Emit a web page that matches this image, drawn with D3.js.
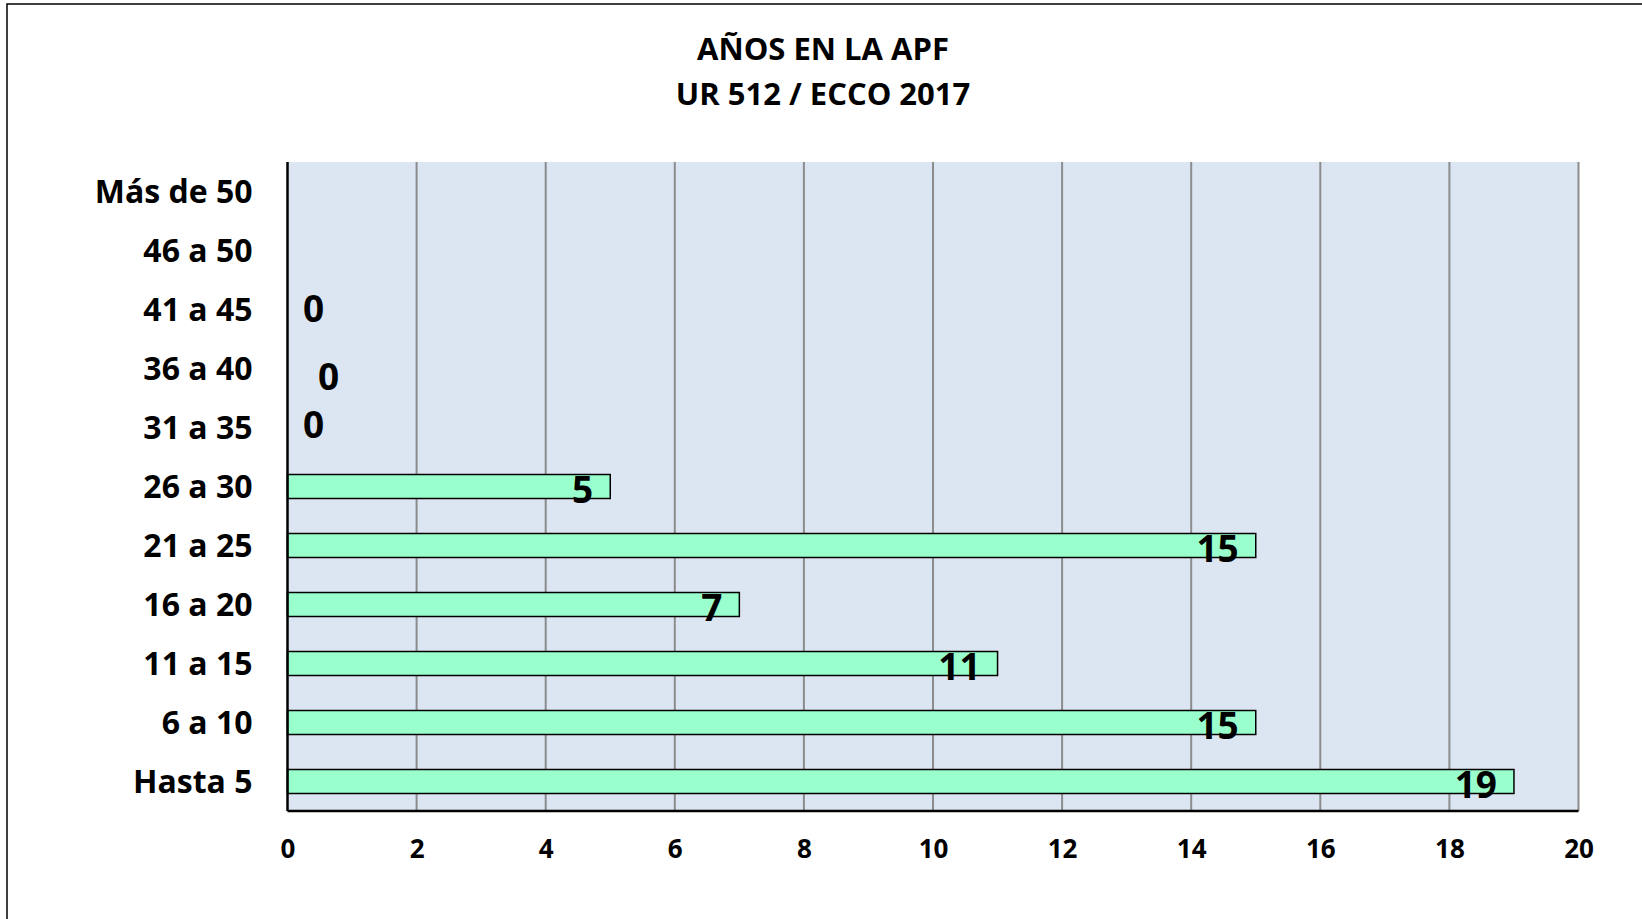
<!DOCTYPE html>
<html><head><meta charset="utf-8">
<script src="https://cdn.jsdelivr.net/npm/d3@7"></script>
<style>
html,body{margin:0;padding:0;background:#fff;}
svg{display:block;font-family:"Open Sans", Lato, sans-serif;font-weight:bold;}
</style></head>
<body>
<svg id="chart" width="1642" height="919"></svg>
<script>
const titleLines = ["AÑOS EN LA APF", "UR 512 / ECCO 2017"];
const categories = ["Hasta 5", "6 a 10", "11 a 15", "16 a 20", "21 a 25", "26 a 30", "31 a 35", "36 a 40", "41 a 45", "46 a 50", "Más de 50"];
const values = [19, 15, 11, 7, 15, 5, 0, 0, 0, null, null];
const xTicks = [0, 2, 4, 6, 8, 10, 12, 14, 16, 18, 20];

// layout (not data)
const zeroLabelNudge = {"31 a 35": [26, -4], "36 a 40": [41, 7], "41 a 45": [26, -2]};
const FONT = "'Open Sans', Lato, sans-serif";

const svg = d3.select("#chart");
const W = 1642, H = 919;
const m = {left: 287.5, right: 1578.5, top: 162, bottom: 811};

svg.append("rect").attr("x", 7).attr("y", 4).attr("width", W).attr("height", H)
  .attr("fill", "#fff").attr("stroke", "#000").attr("stroke-width", 1.5);

const x = d3.scaleLinear().domain([0, 20]).range([m.left, m.right]);
const y = d3.scaleBand().domain(categories.slice().reverse()).range([m.top, m.bottom]).paddingInner(0).paddingOuter(0);

svg.append("rect").attr("x", m.left).attr("y", m.top)
  .attr("width", m.right - m.left).attr("height", m.bottom - m.top).attr("fill", "#DCE6F2");

// gridlines
svg.append("g").selectAll("line").data(xTicks.filter(t => t > 0)).join("line")
  .attr("x1", d => x(d)).attr("x2", d => x(d))
  .attr("y1", m.top).attr("y2", m.bottom)
  .attr("stroke", "#8c8c8c").attr("stroke-width", 2);

// title
svg.append("g").selectAll("text").data(titleLines).join("text")
  .attr("x", 823).attr("y", (d, i) => 60 + i * 45)
  .attr("text-anchor", "middle").attr("font-size", 31).attr("fill", "#000")
  .attr("font-family", FONT).attr("font-weight", "bold")
  .text(d => d);

// bars
const barH = 24;
const data = categories.map((c, i) => ({c, v: values[i]}));
svg.append("g").selectAll("rect").data(data.filter(d => d.v != null && d.v > 0)).join("rect")
  .attr("x", x(0)).attr("y", d => y(d.c) + y.bandwidth() / 2 - barH / 2)
  .attr("width", d => x(d.v) - x(0)).attr("height", barH)
  .attr("fill", "#99FFCC").attr("stroke", "#000").attr("stroke-width", 1.5);

// axes
const xAxis = d3.axisBottom(x).tickValues(xTicks).tickSize(0).tickPadding(0);
const gx = svg.append("g").attr("transform", `translate(0,${m.bottom})`).call(xAxis);
gx.select(".domain").remove();
gx.selectAll("text").attr("y", 47).attr("dy", 0).attr("font-size", 26)
  .attr("font-family", FONT).attr("font-weight", "bold").attr("fill", "#000");
svg.append("line").attr("x1", m.left).attr("x2", m.right).attr("y1", m.bottom).attr("y2", m.bottom)
  .attr("stroke", "#000").attr("stroke-width", 2.5);

const yAxis = d3.axisLeft(y).tickSize(0).tickPadding(0);
const gy = svg.append("g").attr("transform", `translate(${m.left},0)`).call(yAxis);
gy.select(".domain").remove();
gy.selectAll("text").attr("x", -35).attr("dy", 11).attr("font-size", 32)
  .attr("font-family", FONT).attr("font-weight", "bold").attr("fill", "#000");
svg.append("line").attr("x1", m.left).attr("x2", m.left).attr("y1", m.top).attr("y2", m.bottom)
  .attr("stroke", "#000").attr("stroke-width", 2.5);

// value labels
svg.append("g").selectAll("text").data(data.filter(d => d.v != null)).join("text")
  .attr("font-size", 37).attr("fill", "#000")
  .attr("font-family", FONT).attr("font-weight", "bold")
  .attr("text-anchor", d => d.v > 0 ? "end" : "middle")
  .attr("x", d => d.v > 0 ? x(d.v) - 17 : x(0) + (zeroLabelNudge[d.c] || [26, 0])[0])
  .attr("y", d => y(d.c) + y.bandwidth() / 2 + 14 + (d.v > 0 ? 2 : (zeroLabelNudge[d.c] || [0, 0])[1]))
  .text(d => d.v);
</script>
</body></html>
